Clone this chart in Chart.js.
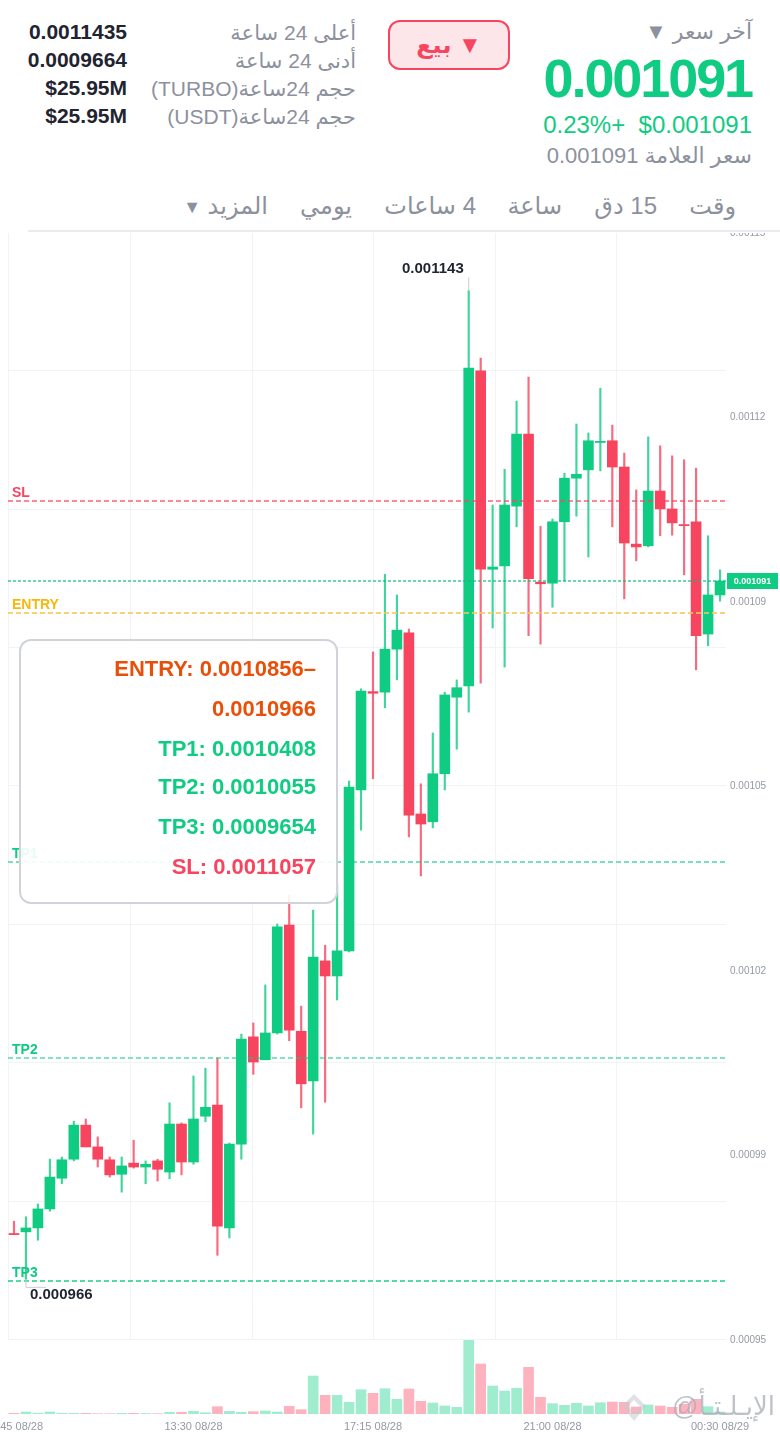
<!DOCTYPE html>
<html lang="ar">
<head>
<meta charset="utf-8">
<title>TURBO</title>
<script src="https://cdn.jsdelivr.net/npm/chart.js@4"></script>
<style>
  html, body { margin: 0; padding: 0; background: #fff; }
  body { width: 780px; height: 1432px; position: relative; overflow: hidden; font-family: "Liberation Sans", "DejaVu Sans", sans-serif; }
  .t { position: absolute; white-space: nowrap; line-height: 1; }
  .grey { color: #8c919d; }
  .dark { color: #1f2430; font-weight: bold; font-size: 21px; right: 653px; }
  .tab { color: #8c919d; font-size: 24px; top: 194px; }
  #sell { position: absolute; left: 388px; top: 20px; width: 118px; height: 46px; border: 2px solid #f8455f; border-radius: 12px; background: #fde6e9; color: #f8455f; font-weight: bold; font-size: 24px; line-height: 46px; text-align: center; }
  #rule { position: absolute; left: 28px; right: 0; top: 230px; height: 2px; background: #e9ebef; z-index: 3; }
  #priceChart { position: absolute; left: 0; top: 233px; z-index: 1; }
  #volumeChart { position: absolute; left: 0; top: 1340px; z-index: 2; }
  #box { position: absolute; left: 19px; top: 639px; width: 315px; height: 261px; border: 2px solid #d0d4da; border-radius: 12px; background: rgba(255,255,255,0.9); z-index: 4; font-weight: bold; font-size: 22px; text-align: right; }
  #box div { position: absolute; right: 20px; white-space: nowrap; line-height: 26px; }
  #mark { position: absolute; left: 621px; top: 1393px; z-index: 5; opacity: 0.55; }
  #markText { position: absolute; right: 5px; top: 1393px; z-index: 5; font-size: 26px; color: #a9adb6; opacity: 0.75; }
</style>
</head>
<body dir="rtl">
<span class="t grey" style="right:28px;top:21px;font-size:22px">آخر سعر ▼</span>
<span class="t" style="right:28px;top:51px;font-size:54px;font-weight:bold;color:#10cb82;letter-spacing:-2.1px">0.001091</span>
<span class="t" style="right:28px;top:113px;font-size:24px;color:#10cb82">$0.001091&nbsp;&nbsp;+0.23%</span>
<span class="t grey" style="right:28px;top:145px;font-size:22px">سعر العلامة 0.001091</span>

<div id="sell" dir="rtl">▼ بيع</div>

<span class="t grey" style="right:424px;top:22px;font-size:21px">أعلى 24 ساعة</span>
<span class="t grey" style="right:424px;top:50px;font-size:21px">أدنى 24 ساعة</span>
<span class="t grey" style="right:424px;top:78px;font-size:21px">حجم 24ساعة(TURBO)</span>
<span class="t grey" style="right:424px;top:106px;font-size:21px">حجم 24ساعة(USDT)</span>
<span class="t dark" style="top:21px" dir="ltr">0.0011435</span>
<span class="t dark" style="top:49px" dir="ltr">0.0009664</span>
<span class="t dark" style="top:77px" dir="ltr">$25.95M</span>
<span class="t dark" style="top:105px" dir="ltr">$25.95M</span>

<span class="t tab" style="right:44px">وقت</span>
<span class="t tab" style="right:123px">15 دق</span>
<span class="t tab" style="right:218px">ساعة</span>
<span class="t tab" style="right:304px">4 ساعات</span>
<span class="t tab" style="right:428px">يومي</span>
<span class="t tab" style="right:512px">المزيد <span style="font-size:18px;vertical-align:1px">▼</span></span>

<div id="rule"></div>
<canvas id="priceChart" dir="ltr" width="780" height="1117"></canvas>
<canvas id="volumeChart" dir="ltr" width="780" height="92"></canvas>

<div id="box">
  <div style="top:15px;color:#e8500a" dir="ltr">ENTRY: 0.0010856–</div>
  <div style="top:55px;color:#e8500a" dir="ltr">0.0010966</div>
  <div style="top:95px;color:#10cb82" dir="ltr">TP1: 0.0010408</div>
  <div style="top:133px;color:#10cb82" dir="ltr">TP2: 0.0010055</div>
  <div style="top:173px;color:#10cb82" dir="ltr">TP3: 0.0009654</div>
  <div style="top:213px;color:#f8455f" dir="ltr">SL: 0.0011057</div>
</div>

<svg id="mark" width="26" height="30" viewBox="0 0 26 30">
  <path d="M13 1 L25 13 L13 28 L1 13 Z M13 7 L7 13 L13 19 L19 13 Z" fill="#c5c8ce" fill-rule="evenodd"/>
</svg>
<span class="t" id="markText">الإيـلـتـأ@</span>

<script>
// 15 minute candles, 09:45 08/28 to 00:30 08/29
const categories = ['09:45 08/28','10:00 08/28','10:15 08/28','10:30 08/28','10:45 08/28','11:00 08/28','11:15 08/28','11:30 08/28','11:45 08/28','12:00 08/28',
  '12:15 08/28','12:30 08/28','12:45 08/28','13:00 08/28','13:15 08/28','13:30 08/28','13:45 08/28','14:00 08/28','14:15 08/28','14:30 08/28',
  '14:45 08/28','15:00 08/28','15:15 08/28','15:30 08/28','15:45 08/28','16:00 08/28','16:15 08/28','16:30 08/28','16:45 08/28','17:00 08/28',
  '17:15 08/28','17:30 08/28','17:45 08/28','18:00 08/28','18:15 08/28','18:30 08/28','18:45 08/28','19:00 08/28','19:15 08/28','19:30 08/28',
  '19:45 08/28','20:00 08/28','20:15 08/28','20:30 08/28','20:45 08/28','21:00 08/28','21:15 08/28','21:30 08/28','21:45 08/28','22:00 08/28',
  '22:15 08/28','22:30 08/28','22:45 08/28','23:00 08/28','23:15 08/28','23:30 08/28','23:45 08/28','00:00 08/29','00:15 08/29','00:30 08/29'];

// prices are in units of 1e-7
const opens = [9742,9745,9752,9786,9841,9875,9936,9897,9874,9848,
  9868,9861,9872,9852,9938,9870,9952,9972,9752,9902,
  10094,10053,10101,10294,10104,10015,10230,10203,10248,10536,
  10712,10711,10788,10817,10493,10479,10565,10702,10722,11286,
  10931,10937,11044,11173,10908,10906,11016,11094,11109,11158,
  11161,11114,10976,10973,11071,11039,11011,11016,10815,10885];
const closes = [9740,9752,9786,9843,9874,9936,9897,9875,9847,9863,
  9861,9866,9857,9938,9870,9947,9968,9755,9902,10090,
  10049,10101,10291,10106,10010,10237,10203,10248,10541,10713,
  10709,10788,10822,10491,10475,10565,10706,10719,11291,10931,
  10935,11046,11173,10914,10905,11016,11094,11101,11161,11160,
  11114,10978,10971,11071,11039,11014,11009,10812,10885,10910];
const highs = [9764,9772,9795,9875,9879,9943,9947,9915,9879,9879,
  9909,9872,9875,9976,9940,10024,10038,10056,9904,10099,
  10119,10187,10296,10348,10149,10321,10258,10366,10552,10717,
  10783,10922,10885,10824,10547,10638,10711,10733,11430,11309,
  11046,11110,11232,11275,11008,11021,11103,11191,11175,11255,
  11189,11139,11073,11168,11152,11134,11127,11112,10991,10930];
const lows = [9740,9660,9730,9782,9831,9872,9897,9861,9843,9816,
  9859,9831,9836,9840,9847,9866,9942,9703,9734,9875,
  10027,10053,10099,10087,9967,9920,9977,10160,10246,10464,
  10556,10683,10733,10452,10382,10468,10536,10609,10675,10727,
  10826,10756,11007,10812,10797,10863,10910,11026,10953,11107,
  11007,10878,10946,10971,10991,10992,10921,10751,10794,10874];
const volumes = [0.7,2,0.7,2,0.7,0.7,0.7,0.3,0.3,0.7,
  0.7,0.5,0.3,1.7,1.7,2.7,1.3,7.3,2.7,1.7,
  2.3,3,2,7.7,4.3,38,18.7,18.7,11.7,24.3,
  20.7,25.3,14.7,25,12.7,11,8,6.7,74,50,
  28,23,25.7,46.7,16.7,10.3,8.7,10.7,8,11.3,
  12,11.7,7,9,8,6.7,9.7,14.7,7.3,2];

const yMin = 9551.4, yMax = 11532.9;
const yTickValues = [11532.9,11202.7,10872.4,10542.2,10211.9,9881.7,9551.4];
const yTickLabels = ['0.00115','0.00112','0.00109','0.00105','0.00102','0.00099','0.00095'];
const yGridValues = [11532.9,11285.2,11037.5,10789.8,10542.2,10294.5,10046.8,9799.1,9551.4];
const xGridSlots = [-0.5,9.69,19.88,29.99,40.2,50.3];
const xTickIndexes = [0,15,30,45,59];

const lineNames = ['SL','ENTRY','','TP1','TP2','TP3'];
const lineLevels = [11053,10853,10910,10407,10056,9657];
const lineColors = ['rgba(248,69,95,0.85)','rgba(245,200,80,0.8)','rgba(16,185,129,0.8)','rgba(16,203,130,0.75)','rgba(16,203,130,0.7)','rgba(16,203,130,0.95)'];
const lineWidths = [1.5,2,1.5,1.5,1.5,1.5];
const labelColors = ['#f8455f','#f5b80f','','#10cb82','#10cb82','#10cb82'];
const lastPrice = 10910, lastPriceLabel = '0.001091';
const highIndex = 38, highLabel = '0.001143';
const lowIndex = 1, lowLabel = '0.000966';

const GREEN = '#10cb82', RED = '#f8455f';
const isUp = i => closes[i] >= opens[i];

const priceCanvas = document.getElementById('priceChart');
const volumeCanvas = document.getElementById('volumeChart');

// grid behind the candles, price lines and labels on top
const overlay = {
  id: 'overlay',
  beforeDatasetsDraw(chart) {
    const { ctx, chartArea: a, scales: { x, y } } = chart;
    ctx.save();
    ctx.strokeStyle = '#f2f3f5';
    ctx.lineWidth = 1;
    yGridValues.forEach(v => {
      const py = Math.round(y.getPixelForValue(v)) - 0.5;
      ctx.beginPath(); ctx.moveTo(a.left, py); ctx.lineTo(a.right, py); ctx.stroke();
    });
    xGridSlots.forEach(v => {
      const px = Math.round(x.getPixelForValue(v)) + 0.5;
      ctx.beginPath(); ctx.moveTo(px, a.top); ctx.lineTo(px, a.bottom); ctx.stroke();
    });
    ctx.restore();
  },
  afterDatasetsDraw(chart) {
    const { ctx, chartArea: a, scales: { x, y } } = chart;
    ctx.save();
    lineLevels.forEach((v, i) => {
      const py = Math.round(y.getPixelForValue(v));
      ctx.strokeStyle = lineColors[i];
      ctx.lineWidth = lineWidths[i];
      ctx.setLineDash(i === 2 ? [3, 2] : [5, 3]);
      ctx.beginPath(); ctx.moveTo(a.left, py); ctx.lineTo(a.right, py); ctx.stroke();
      if (lineNames[i]) {
        ctx.fillStyle = labelColors[i];
        ctx.font = 'bold 14px "Liberation Sans"';
        ctx.textAlign = 'left';
        ctx.textBaseline = 'alphabetic';
        ctx.direction = 'ltr';
        ctx.fillText(lineNames[i], 12, py - 4);
      }
    });
    ctx.setLineDash([]);

    // high and low callouts
    ctx.strokeStyle = '#c9ccd2';
    ctx.lineWidth = 1;
    const hx = x.getPixelForValue(highIndex), hy = y.getPixelForValue(highs[highIndex]);
    ctx.beginPath(); ctx.moveTo(hx, hy); ctx.lineTo(hx, hy - 13); ctx.stroke();
    const lx = x.getPixelForValue(lowIndex), ly = y.getPixelForValue(lows[lowIndex]);
    ctx.beginPath(); ctx.moveTo(lx, ly); ctx.lineTo(lx, ly + 8); ctx.lineTo(lx + 20, ly + 8); ctx.stroke();
    ctx.fillStyle = '#1f2430';
    ctx.font = 'bold 15px "Liberation Sans"';
    ctx.textAlign = 'left';
    ctx.direction = 'ltr';
    ctx.fillText(highLabel, 402, hy - 17);
    ctx.fillText(lowLabel, 30, ly + 20);

    // last price tag
    const tagY = y.getPixelForValue(lastPrice);
    ctx.fillStyle = GREEN;
    ctx.fillRect(a.right + 1, tagY - 8, 51, 16);
    ctx.fillStyle = '#fff';
    ctx.font = 'bold 9px "Liberation Sans"';
    ctx.textAlign = 'center';
    ctx.textBaseline = 'middle';
    ctx.fillText(lastPriceLabel, a.right + 26.5, tagY + 0.5);
    ctx.restore();
  }
};

new Chart(priceCanvas, {
  type: 'bar',
  data: {
    labels: categories,
    datasets: [
      {
        label: 'Body',
        data: categories.map((c, i) => [opens[i], closes[i]]),
        backgroundColor: categories.map((c, i) => isUp(i) ? GREEN : RED),
        barThickness: 10,
        grouped: false,
        order: 1
      },
      {
        label: 'Wick',
        data: categories.map((c, i) => [lows[i], highs[i]]),
        backgroundColor: categories.map((c, i) => isUp(i) ? 'rgba(16,203,130,0.8)' : 'rgba(248,69,95,0.8)'),
        barThickness: 1.5,
        grouped: false,
        order: 2
      }
    ]
  },
  options: {
    responsive: false,
    animation: false,
    devicePixelRatio: 1,
    layout: { padding: { left: 8, right: 0, top: 0, bottom: 10 } },
    plugins: { legend: { display: false }, tooltip: { enabled: false } },
    scales: {
      x: { display: false },
      y: {
        position: 'right',
        min: yMin,
        max: yMax,
        grid: { display: false, drawTicks: false },
        border: { display: false },
        afterBuildTicks(scale) { scale.ticks = yTickValues.map(value => ({ value })); },
        afterFit(scale) { scale.width = 54; scale.paddingTop = 0; scale.paddingBottom = 0; },
        ticks: {
          color: '#9599a5',
          font: { size: 10, family: 'Liberation Sans' },
          padding: 4,
          autoSkip: false,
          crossAlign: 'near',
          callback(value, index) { return yTickLabels[index]; }
        }
      }
    }
  },
  plugins: [overlay]
});

new Chart(volumeCanvas, {
  type: 'bar',
  data: {
    labels: categories,
    datasets: [{
      label: 'Volume',
      data: volumes,
      backgroundColor: categories.map((c, i) => isUp(i) ? '#a0ecce' : '#feb2bd'),
      barThickness: 10
    }]
  },
  options: {
    responsive: false,
    animation: false,
    devicePixelRatio: 1,
    layout: { padding: { left: 8, right: 54, top: 0, bottom: 0 } },
    plugins: { legend: { display: false }, tooltip: { enabled: false } },
    scales: {
      x: {
        grid: { display: false, drawTicks: false },
        border: { display: false },
        afterBuildTicks(scale) { scale.ticks = xTickIndexes.map(value => ({ value })); },
        afterFit(scale) { scale.height = 18; scale.paddingLeft = 0; scale.paddingRight = 0; },
        ticks: {
          color: '#9599a5',
          font: { size: 11, family: 'Liberation Sans' },
          padding: 6,
          maxRotation: 0,
          autoSkip: false,
          callback(value) { return categories[value]; }
        }
      },
      y: { display: false, min: 0, max: 74 }
    }
  }
});
</script>
</body>
</html>
